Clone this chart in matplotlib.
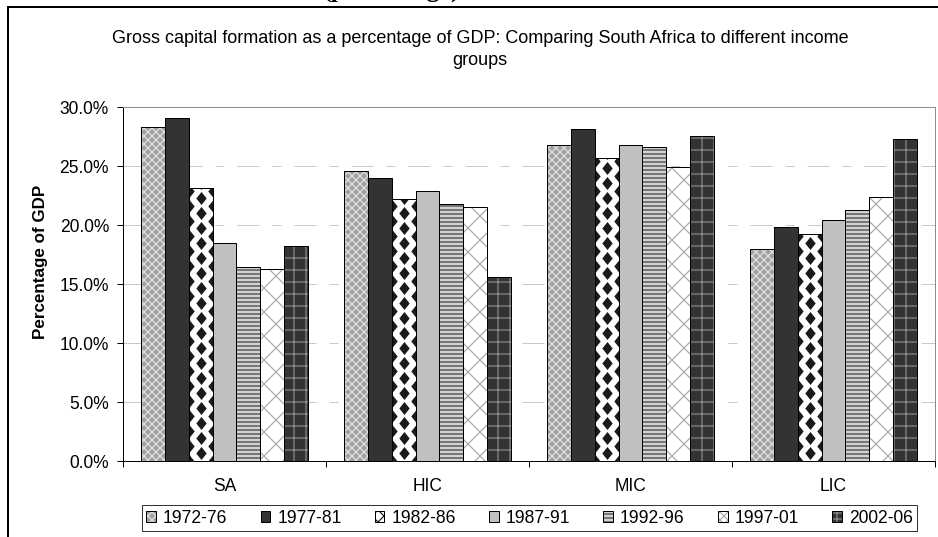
import matplotlib
matplotlib.use('Agg')
import matplotlib.pyplot as plt
import numpy as np
from matplotlib.patches import Patch
from matplotlib.path import Path
from matplotlib.lines import Line2D
from matplotlib.legend_handler import HandlerTuple

# data (percent of GDP)
categories = ['SA', 'HIC', 'MIC', 'LIC']
periods = ['1972-76', '1977-81', '1982-86', '1987-91', '1992-96', '1997-01', '2002-06']

gcf_1972_76 = [28.3, 24.6, 26.8, 18.0]
gcf_1977_81 = [29.1, 24.0, 28.1, 19.85]
gcf_1982_86 = [23.1, 22.2, 25.65, 19.2]
gcf_1987_91 = [18.45, 22.9, 26.8, 20.45]
gcf_1992_96 = [16.4, 21.8, 26.6, 21.3]
gcf_1997_01 = [16.3, 21.5, 24.95, 22.35]
gcf_2002_06 = [18.25, 15.6, 27.5, 27.3]

series = [gcf_1972_76, gcf_1977_81, gcf_1982_86, gcf_1987_91,
          gcf_1992_96, gcf_1997_01, gcf_2002_06]

yticks = [0, 5, 10, 15, 20, 25, 30]

# fill styles: face colour, hatch, hatch colour (None = plain)
styles = [
    ('#a2a2a2', 'xxx', '#e2e2e2'),
    ('#333333', None, None),
    ('white', 'diamonds', '#1a1a1a'),
    ('#c0c0c0', None, None),
    ('#d2d2d2', '---', '#3c3c3c'),
    ('white', 'x', '#a8a8a8'),
    ('#333333', '+', '#8c8c8c'),
]
# the legend squares are tiny, so the pattern is drawn finer there
legend_hatches = ['xxx', None, 'xx', None, '---', 'xxx', '++']

plt.rcParams['font.family'] = ['Liberation Sans', 'DejaVu Sans']
plt.rcParams['hatch.linewidth'] = 1.2

W, H = 938, 537
fig = plt.figure(figsize=((W + 0.01) / 72, (H + 0.01) / 72), dpi=72)
ax_left, ax_right, ax_top, ax_bottom = 123, 935, 107, 461
ax = fig.add_axes([ax_left / W, 1 - ax_bottom / H,
                   (ax_right - ax_left) / W, (ax_bottom - ax_top) / H])

x = np.arange(len(categories))
n = len(periods)
bw = 1 / (n + 1.5)

# diamond pattern geometry (pixels -> data units)
dy = 7.5 * 30 / (ax_bottom - ax_top)
diamond = Path([(0, 1), (0.8, 0), (0, -1), (-0.8, 0), (0, 1)],
               [Path.MOVETO, Path.LINETO, Path.LINETO, Path.LINETO, Path.CLOSEPOLY])

for i, vals in enumerate(series):
    face, hatch, hcol = styles[i]
    xpos = x + (i - (n - 1) / 2) * bw
    base = ax.bar(xpos, vals, bw, color=face, lw=0, zorder=2)
    if hatch == 'diamonds':
        for rect in base:
            x0 = rect.get_x()
            nrows = int(rect.get_height() / dy) + 2
            pts = [(x0 + k * bw / 2, j * dy) for k in range(3) for j in range(nrows)
                   if (k + j) % 2 == 0]
            px, py = zip(*pts)
            sc = ax.scatter(px, py, marker=diamond, s=13 ** 2, color=hcol,
                            lw=0, zorder=3)
            sc.set_clip_path(rect)
    elif hatch:
        ax.bar(xpos, vals, bw, color='none', edgecolor=hcol, hatch=hatch,
               lw=0, zorder=3)
    ax.bar(xpos, vals, bw, fill=False, edgecolor='black', lw=1, zorder=4)

ax.set_xlim(-0.5, len(categories) - 0.5)
ax.set_ylim(0, 30)

ax.set_yticks(yticks)
ax.set_yticklabels([f'{v:.1f}%' for v in yticks])
ax.set_xticks(np.arange(len(categories) + 1) - 0.5)
ax.set_xticklabels([])
ax.set_xticks(x, minor=True)
ax.set_xticklabels(categories, minor=True)
ax.tick_params(axis='x', which='major', length=6, width=1, direction='out')
ax.tick_params(axis='x', which='minor', length=0, pad=17, labelsize=17.5)
ax.tick_params(axis='y', length=6, width=1, direction='out', pad=8, labelsize=17.5)

ax.yaxis.grid(True, color='#c8c8c8', lw=1, linestyle=(0, (22, 13, 9, 13)), zorder=1)
ax.set_axisbelow(True)

for s in ['top', 'right']:
    ax.spines[s].set_color('#8c8c8c')
    ax.spines[s].set_linewidth(1)
for s in ['left', 'bottom']:
    ax.spines[s].set_color('black')
    ax.spines[s].set_linewidth(1)

# titles
fig.text(480 / W, 1 - 43 / H,
         'Gross capital formation as a percentage of GDP: Comparing South Africa to different income',
         ha='center', va='baseline', fontsize=18)
fig.text(480 / W, 1 - 65 / H, 'groups', ha='center', va='baseline', fontsize=18)
fig.text(40 / W, 1 - 262 / H, 'Percentage of GDP', rotation=90, ha='center',
         va='center', fontsize=17, fontweight='bold')

# cut-off heading above the chart frame, as in the reference
fig.text(323 / W, 1 + 2 / H, '(percentage)', family='Liberation Serif',
         fontweight='bold', fontsize=26, ha='left', va='baseline')

# outer frame (only top and left edges show)
fig.add_artist(Line2D([8 / W, 8 / W], [0, 1 - 7 / H], transform=fig.transFigure,
                      color='black', lw=2))
fig.add_artist(Line2D([8 / W, 1], [1 - 7 / H, 1 - 7 / H], transform=fig.transFigure,
                      color='black', lw=2))

# legend
handles = []
for (face, hatch, hcol), lh in zip(styles, legend_hatches):
    if lh:
        fill = Patch(facecolor=face, edgecolor=hcol, hatch=lh, lw=0)
    else:
        fill = Patch(facecolor=face, lw=0)
    handles.append((fill, Patch(fill=False, edgecolor='black', lw=1)))

leg = fig.legend(handles, periods, loc='center',
                 bbox_to_anchor=(529.5 / W, 1 - 518 / H), ncol=n,
                 frameon=True, fancybox=False, edgecolor='black',
                 handlelength=0.55, handleheight=0.55, handletextpad=0.4,
                 columnspacing=1.9, borderpad=0.25, fontsize=17.5,
                 handler_map={tuple: HandlerTuple(ndivide=1, pad=0)})
leg.get_frame().set_linewidth(1)

fig.savefig('out.png', dpi=72)
